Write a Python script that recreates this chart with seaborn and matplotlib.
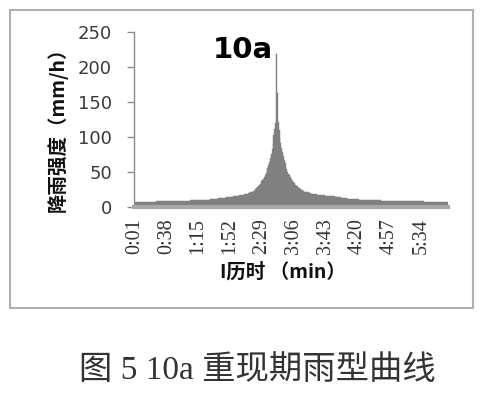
import numpy as np
import pandas as pd
import matplotlib
matplotlib.use("Agg")
import matplotlib.pyplot as plt
from matplotlib.patches import Rectangle
import seaborn as sns

# ---------------- data ----------------
# rising limb plateaus (value in mm/h, number of one-minute bars)
head_values = [7.0, 8.7, 10.2, 11.6, 13.0, 14.4, 15.8, 17.2, 18.6, 20.0, 21.4, 22.8]
head_counts = [26, 39, 23, 10, 9, 8, 7, 6, 4, 3, 3, 2]
# bars around the peak, one per minute
peak_values = [24.2, 25.6, 27, 28.5, 30, 31.5, 33, 35, 37, 39,
               41, 43.5, 46, 49, 52, 56, 60, 65, 70, 76,
               83, 92, 103, 112, 120, 218, 163, 122, 110, 100,
               92, 85, 79, 73, 68, 63, 59, 55, 51, 48,
               45.5, 43, 41, 39, 37, 35.5, 34, 32.5, 31, 30,
               29, 28, 27, 26, 25.2, 24.4, 23.6, 22.8]
# falling limb plateaus
tail_values = [22.0, 21.2, 20.4, 19.6, 18.8, 18.0, 17.2, 16.4, 15.6, 14.8, 14.0, 12.4, 10.8, 8.7, 7.0]
tail_counts = [2, 3, 3, 3, 4, 4, 5, 5, 6, 7, 8, 13, 26, 50, 28]

tick_labels = ["0:01", "0:38", "1:15", "1:52", "2:29", "3:06", "3:43", "4:20", "4:57", "5:34"]

title_text = "10a"
x_label = "I历时 （min）"
y_label = "降雨强度（mm/h）"
caption = "图 5 10a 重现期雨型曲线"

# ---------------- build table ----------------
intensity = (list(np.repeat(head_values, head_counts))
             + peak_values
             + list(np.repeat(tail_values, tail_counts)))
n = len(intensity)
categories = [f"{(m) // 60}:{(m) % 60:02d}" for m in range(1, n + 1)]
df = pd.DataFrame({"time": categories, "intensity": intensity})

# ---------------- plot ----------------
sns.set_theme(style="white")
plt.rcParams['font.family'] = ['DejaVu Sans', 'Noto Sans CJK SC']

fig = plt.figure(figsize=(4.93, 3.98), dpi=100)
ax = fig.add_axes([0.272, 0.479, 0.637, 0.441])

bar_color = "#808080"
sns.barplot(data=df, x="time", y="intensity", order=categories, color=bar_color,
            saturation=1, width=1.0, edgecolor=bar_color, linewidth=0.3,
            errorbar=None, ax=ax)

ax.set_xlim(-0.5, n - 0.5)
ax.set_ylim(0, 250)
ax.set_yticks([0, 50, 100, 150, 200, 250])
pos = [categories.index(t) for t in tick_labels]
ax.set_xticks(pos)
ax.set_xticklabels(tick_labels, rotation=90, fontsize=14.5,
                   family=['Liberation Serif'], color="#333333")

for s in ["top", "right"]:
    ax.spines[s].set_visible(False)
ax.spines["left"].set_color("#8a8a8a")
ax.spines["left"].set_linewidth(1.0)
ax.spines["bottom"].set_color("#a8a8a8")
ax.spines["bottom"].set_linewidth(3.0)

ax.tick_params(axis="y", direction="out", length=5, width=1, color="#8a8a8a",
               pad=11, labelsize=13, labelcolor="#3a3a3a", left=True)
ax.tick_params(axis="x", length=0, pad=8)

ax.set_xlabel(x_label, fontsize=14, fontweight="bold",
              family=['Noto Sans CJK SC'], color="#111111")
ax.set_ylabel(y_label, fontsize=14, fontweight="bold",
              family=['Noto Sans CJK SC'], color="#111111")
ax.xaxis.set_label_coords(0.475, -0.31)
ax.yaxis.set_label_coords(-0.21, 0.47)

ax.text(0.25, 0.85, title_text, transform=ax.transAxes, ha="left", va="baseline",
        fontsize=21, fontweight="bold", color="#000000")

fig.add_artist(Rectangle((0.0203, 0.226), 0.9391, 0.749, transform=fig.transFigure,
                         fill=False, edgecolor="#b0b0b0", linewidth=1.5))

fig.text(0.522, 0.068, caption, ha="center", va="center", fontsize=24,
         family=['Liberation Serif', 'Noto Sans CJK SC'], color="#333333")

fig.savefig("out.png", dpi=100)
